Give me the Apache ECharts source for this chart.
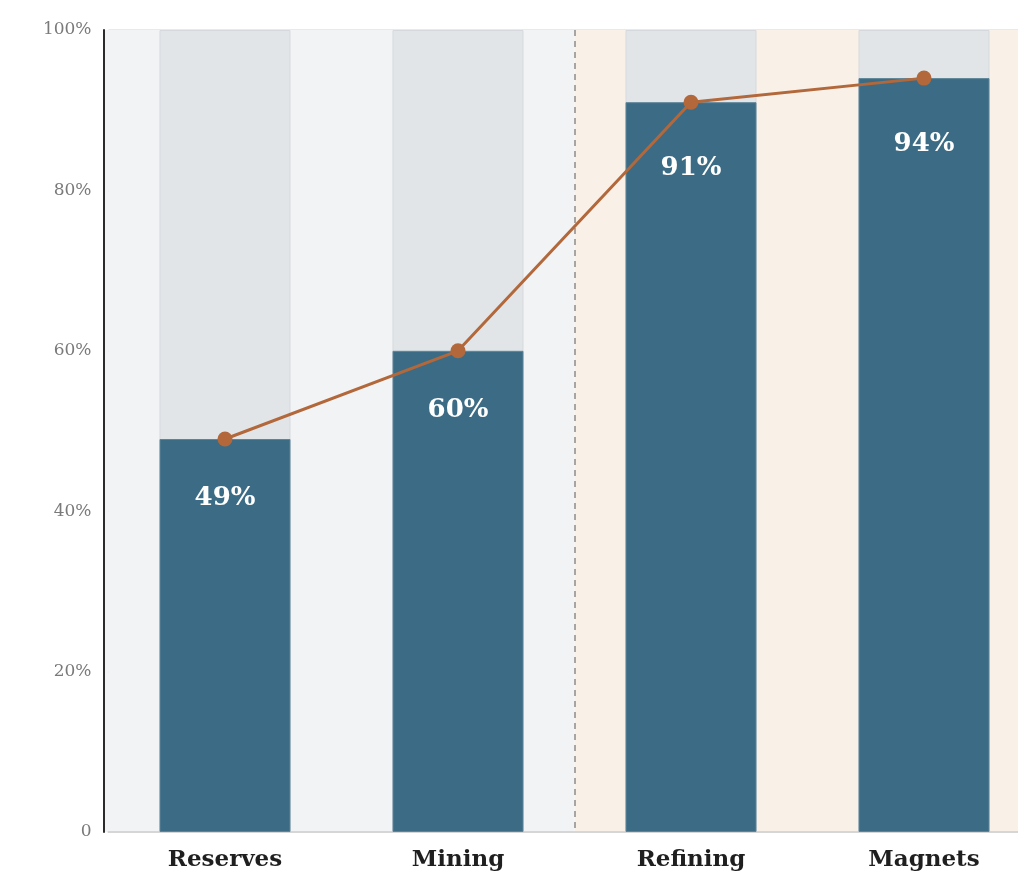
<!DOCTYPE html>
<html lang="en">
<head>
    <meta charset="UTF-8">
    <title>Supply chain share</title>
    <script src="https://cdnjs.cloudflare.com/ajax/libs/echarts/6.0.0/echarts.min.js"></script>
    <style>
        body { margin: 0; background: #ffffff; }
        #chart { width: 1024px; height: 880px; }
    </style>
</head>
<body>
<div id="chart"></div>
<script>
    const stages = ['Reserves', 'Mining', 'Refining', 'Magnets'];
    const shares = [49, 60, 91, 94];
    const fullBars = [100, 100, 100, 100];
    const bandColors = ['#f2f3f5', '#f2f3f5', '#f9f0e8', '#f9f0e8'];

    const serif = "'DejaVu Serif', 'Liberation Serif', serif";
    const chart = echarts.init(document.getElementById('chart'));

    // labels sit a little lower inside the two tall bars
    const shareData = shares.map((v, i) => i >= 2 ? { value: v, label: { distance: 53 } } : v);

    chart.setOption({
        animation: false,
        grid: { left: 108.5, width: 932, top: 30, bottom: 48, outerBoundsMode: 'none', containLabel: false },
        xAxis: [
            {
                type: 'category',
                data: stages,
                axisLine: { lineStyle: { color: '#d6d6d6', width: 2 } },
                axisTick: { show: false },
                axisLabel: {
                    color: '#1f1f1f', fontFamily: serif, fontWeight: 'bold',
                    fontSize: 23, margin: 17
                },
                splitArea: { show: true, areaStyle: { color: bandColors } },
                splitLine: { show: false }
            },
            {
                // divider between upstream and downstream stages
                type: 'value',
                position: 'bottom',
                min: 0, max: 4, interval: 2,
                axisLine: { show: false },
                axisTick: { show: false },
                axisLabel: { show: false },
                splitLine: {
                    show: true, showMinLine: false, showMaxLine: false,
                    lineStyle: { color: '#8c8c8c', type: [6, 5], width: 1.5 }
                }
            }
        ],
        yAxis: {
            type: 'value',
            min: 0, max: 100, interval: 20,
            offset: 5,
            axisLine: { show: true, onZero: false, lineStyle: { color: '#2b2b2b', width: 2 } },
            axisTick: { show: false },
            axisLabel: {
                color: '#7a7a7a', fontFamily: serif, fontSize: 17, margin: 12,
                formatter: (v) => v === 0 ? '0' : v + '%'
            },
            splitLine: { lineStyle: { color: '#e2e2e2', width: 1.5 } }
        },
        series: [
            {
                type: 'bar',
                data: fullBars,
                barWidth: 131,
                silent: true,
                itemStyle: { color: '#e2e5e8', borderColor: '#d5d9dd', borderWidth: 1 }
            },
            {
                type: 'bar',
                data: shareData,
                barWidth: 131,
                barGap: '-100%',
                itemStyle: { color: '#3c6c85', borderColor: '#5d8499', borderWidth: 1 },
                label: {
                    show: true,
                    position: 'insideTop',
                    distance: 46,
                    color: '#ffffff',
                    fontFamily: serif,
                    fontWeight: 'bold',
                    fontSize: 26,
                    formatter: (p) => p.value + '%'
                }
            },
            {
                type: 'line',
                data: shares,
                symbol: 'circle',
                symbolSize: 15,
                lineStyle: { color: '#b2683a', width: 3 },
                itemStyle: { color: '#b2683a' },
                z: 5
            }
        ],
        graphic: [
            { type: 'rect', left: 104, top: 30, shape: { width: 5, height: 802 }, style: { fill: '#f2f3f5' }, z: -1 },
            { type: 'rect', right: 0, top: 0, shape: { width: 6, height: 880 }, style: { fill: '#ffffff' }, z: 10 }
        ]
    });
</script>
</body>
</html>
